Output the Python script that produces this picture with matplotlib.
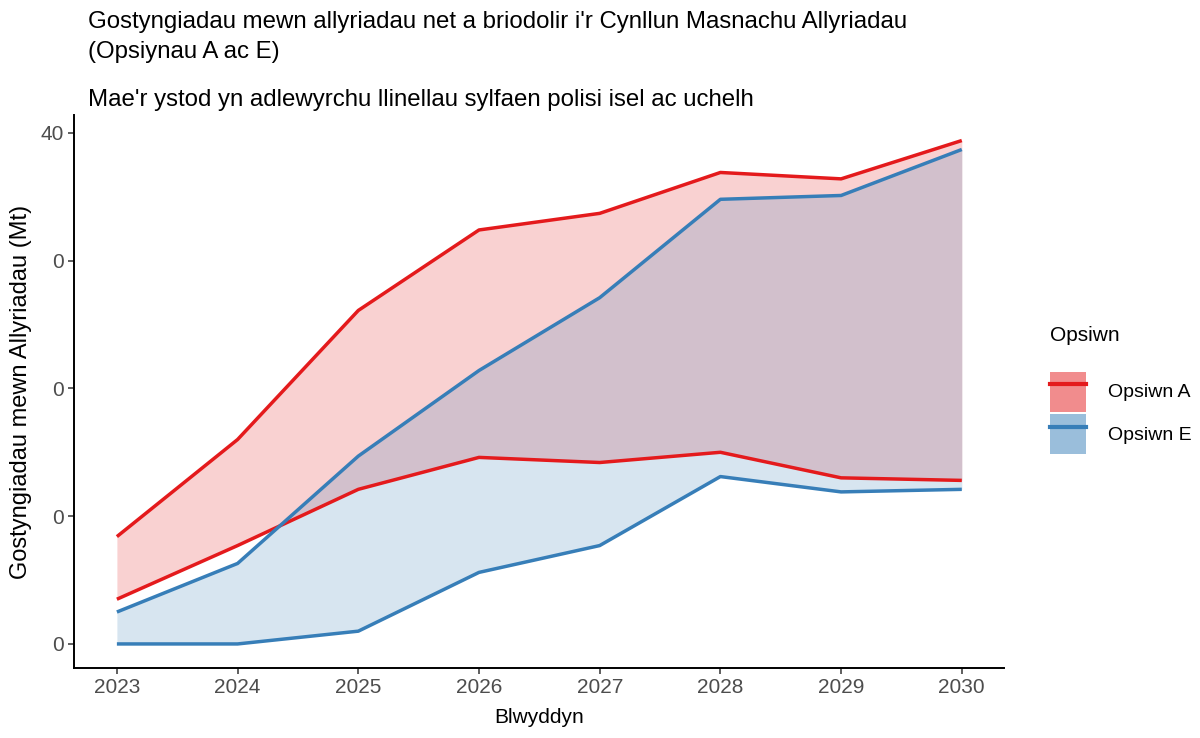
import numpy as np
import matplotlib.pyplot as plt
from matplotlib.patches import Patch
from matplotlib.lines import Line2D

plt.rcParams["font.family"] = ["Liberation Sans", "DejaVu Sans"]

years = [2023, 2024, 2025, 2026, 2027, 2028, 2029, 2030]
a_high = [8.4, 16.0, 26.1, 32.4, 33.7, 36.9, 36.4, 39.4]
a_low = [3.5, 7.7, 12.1, 14.6, 14.2, 15.0, 13.0, 12.8]
e_high = [2.5, 6.3, 14.7, 21.4, 27.1, 34.8, 35.1, 38.7]
e_low = [0.0, 0.0, 1.0, 5.6, 7.7, 13.1, 11.9, 12.1]
yticks = [0, 10, 20, 30, 40]
ytick_labels = ["0", "0", "0", "0", "40"]

red = "#E41A1C"
blue = "#377EB8"

fig = plt.figure(figsize=(12, 7.38), dpi=100)
ax = fig.add_axes([0.0617, 0.0949, 0.775, 0.7493])

ax.fill_between(years, a_low, a_high, color=red, alpha=0.2, lw=0)
ax.fill_between(years, e_low, e_high, color=blue, alpha=0.2, lw=0)
for lo, hi, c in ((a_low, a_high, red), (e_low, e_high, blue)):
    ax.plot(years, hi, color=c, lw=2.5, solid_capstyle="butt")
    ax.plot(years, lo, color=c, lw=2.5, solid_capstyle="butt")

ax.set_xlim(2022.645, 2030.35)
ax.set_ylim(-1.88, 41.4)
ax.set_xticks(years)
ax.set_yticks(yticks)
ax.set_yticklabels(ytick_labels)
for s in ("top", "right"):
    ax.spines[s].set_visible(False)
for s in ("left", "bottom"):
    ax.spines[s].set_linewidth(1.4)
    ax.spines[s].set_color("black")
ax.tick_params(axis="both", labelsize=15, labelcolor="#4D4D4D", color="#333333",
               length=4, width=1.1)
ax.set_xlabel("Blwyddyn", fontsize=15, labelpad=8)
ax.set_ylabel("Gostyngiadau mewn Allyriadau (Mt)", fontsize=17, labelpad=6)

fig.text(0.0733, 0.970, "Gostyngiadau mewn allyriadau net a briodolir i'r Cynllun Masnachu Allyriadau",
         fontsize=17.3, va="center", ha="left")
fig.text(0.0733, 0.929, "(Opsiynau A ac E)", fontsize=17.3, va="center", ha="left")
fig.text(0.0733, 0.864, "Mae'r ystod yn adlewyrchu llinellau sylfaen polisi isel ac uchelh",
         fontsize=17.3, va="center", ha="left")

fig.text(1050 / 1200, 1 - 335 / 738, "Opsiwn", fontsize=15, va="center", ha="left")
handles = [
    (Patch(facecolor=red, alpha=0.5, lw=0), Line2D([], [], color=red, lw=3)),
    (Patch(facecolor=blue, alpha=0.5, lw=0), Line2D([], [], color=blue, lw=3)),
]
leg = fig.legend(handles, ["Opsiwn A", "Opsiwn E"],
                 loc="upper left", bbox_to_anchor=(1034 / 1200, 1 - 356 / 738), frameon=False,
                 prop={"size": 14}, handlelength=1.9, handleheight=2.8,
                 labelspacing=0.1, handletextpad=1.1, borderpad=0.3)

fig.savefig("out.png", dpi=100)
